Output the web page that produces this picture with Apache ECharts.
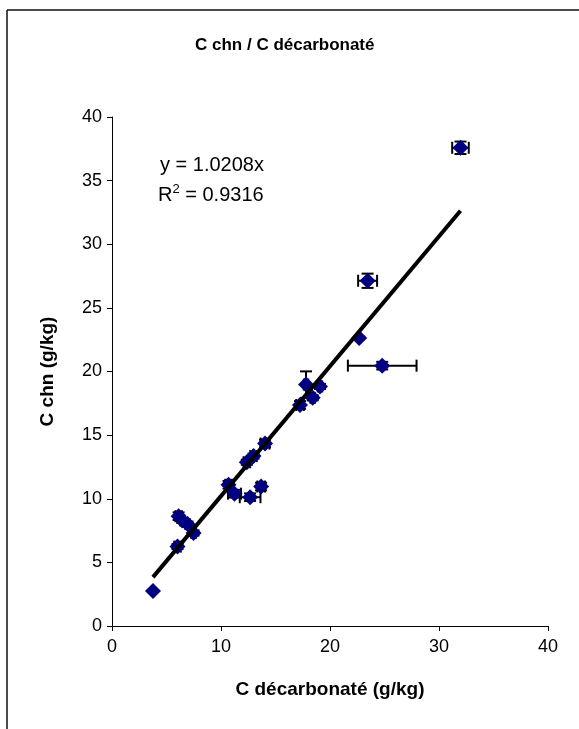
<!DOCTYPE html>
<html>
<head>
<meta charset="utf-8">
<script src="https://cdn.jsdelivr.net/npm/echarts@6/dist/echarts.min.js"></script>
<style>
html,body{margin:0;padding:0;background:#fff;}
#chart{width:579px;height:729px;}
</style>
</head>
<body>
<div id="chart"></div>
<script>
// C décarbonaté (g/kg)
var xValues = [3.76, 6.01, 6.11, 6.45, 6.93, 7.48, 10.69, 11.24, 12.67, 13.68, 12.37, 12.98, 14.04, 17.25, 17.80, 18.41, 19.08, 22.68, 24.79, 23.45, 31.97];
// C chn (g/kg)
var yValues = [2.75, 6.24, 8.63, 8.30, 8.01, 7.31, 11.10, 10.40, 10.12, 10.96, 12.87, 13.35, 14.34, 17.37, 18.97, 17.93, 18.83, 22.63, 20.46, 27.13, 37.58];
// error bar half-widths
var xErr = [0.0, 0.3, 0.3, 0.2, 0.2, 0.2, 0.3, 0.6, 0.95, 0.35, 0.3, 0.3, 0.4, 0.35, 0.2, 0.2, 0.2, 0.1, 3.15, 0.87, 0.76];
var yErr = [0.0, 0.2, 0.3, 0.2, 0.2, 0.2, 0.3, 0.3, 0.3, 0.3, 0.2, 0.2, 0.3, 0.3, 1.04, 0.2, 0.2, 0.1, 0.3, 0.56, 0.49];
var slope = 1.0208;
var r2 = '0.9316';
var title = 'C chn / C décarbonaté';
var xName = 'C décarbonaté (g/kg)';
var yName = 'C chn (g/kg)';

var points = xValues.map(function(x, i){ return [x, yValues[i]]; });
var errData = xValues.map(function(x, i){ return [x, yValues[i], xErr[i], yErr[i]]; });
var xMin = Math.min.apply(null, xValues), xMax = Math.max.apply(null, xValues);
var trend = [[xMin, slope * xMin], [xMax, slope * xMax]];

var chart = echarts.init(document.getElementById('chart'));
var font = '"Liberation Sans", Arial, sans-serif';
var CAP = 6;

chart.setOption({
  animation: false,
  backgroundColor: '#fff',
  title: {
    text: title, left: 190, top: 32,
    textStyle: {fontFamily: font, fontSize: 17, fontWeight: 'bold', color: '#000'}
  },
  grid: {left: 112, right: 31, top: 117, bottom: 103},
  xAxis: {
    type: 'value', min: 0, max: 40, interval: 10,
    name: xName, nameLocation: 'middle', nameGap: 54,
    nameTextStyle: {fontFamily: font, fontSize: 19, fontWeight: 'bold', color: '#000'},
    axisLine: {show: true, lineStyle: {color: '#000', width: 1}},
    axisTick: {show: true, length: 5, lineStyle: {color: '#000'}},
    axisLabel: {fontFamily: font, fontSize: 18, color: '#000', margin: 12},
    splitLine: {show: false}
  },
  yAxis: {
    type: 'value', min: 0, max: 40, interval: 5,
    name: yName, nameLocation: 'middle', nameGap: 55,
    nameTextStyle: {fontFamily: font, fontSize: 19, fontWeight: 'bold', color: '#000'},
    axisLine: {show: true, lineStyle: {color: '#000', width: 1}},
    axisTick: {show: true, length: 5, lineStyle: {color: '#000'}},
    axisLabel: {fontFamily: font, fontSize: 18, color: '#000', margin: 10},
    splitLine: {show: false}
  },
  graphic: [
    {type: 'line', shape: {x1: 7, y1: 10, x2: 579, y2: 10}, style: {stroke: '#111', lineWidth: 1.5}, z: 100},
    {type: 'line', shape: {x1: 7, y1: 10, x2: 7, y2: 729}, style: {stroke: '#111', lineWidth: 1.5}, z: 100},
    {type: 'text', left: 160, top: 155, z: 100, style: {
      text: 'y = ' + slope + 'x', font: '20px ' + font, fill: '#000'}},
    {type: 'text', left: 158, top: 183, z: 100, style: {
      rich: {n: {fontFamily: font, fontSize: 20, fill: '#000'}, s: {fontFamily: font, fontSize: 13, fill: '#000', verticalAlign: 'top', padding: [0,0,12,0]}},
      text: '{n|R}{s|2}{n| = ' + r2 + '}'}}
  ],
  series: [
    {
      type: 'custom',
      data: errData,
      z: 2,
      renderItem: function(params, api){
        var x = api.value(0), y = api.value(1), ex = api.value(2), ey = api.value(3);
        var children = [];
        var st = {stroke: '#000', lineWidth: 2};
        if (ex > 0) {
          var l = api.coord([x - ex, y]), r = api.coord([x + ex, y]);
          children.push({type: 'line', shape: {x1: l[0], y1: l[1], x2: r[0], y2: r[1]}, style: st});
          children.push({type: 'line', shape: {x1: l[0], y1: l[1] - CAP, x2: l[0], y2: l[1] + CAP}, style: st});
          children.push({type: 'line', shape: {x1: r[0], y1: r[1] - CAP, x2: r[0], y2: r[1] + CAP}, style: st});
        }
        if (ey > 0) {
          var b = api.coord([x, y - ey]), t = api.coord([x, y + ey]);
          children.push({type: 'line', shape: {x1: b[0], y1: b[1], x2: t[0], y2: t[1]}, style: st});
          children.push({type: 'line', shape: {x1: b[0] - CAP, y1: b[1], x2: b[0] + CAP, y2: b[1]}, style: st});
          children.push({type: 'line', shape: {x1: t[0] - CAP, y1: t[1], x2: t[0] + CAP, y2: t[1]}, style: st});
        }
        return {type: 'group', children: children};
      }
    },
    {
      type: 'scatter',
      data: points,
      symbol: 'diamond',
      symbolSize: 16,
      z: 3,
      itemStyle: {color: '#000080', opacity: 1}
    },
    {
      type: 'line',
      data: trend,
      symbol: 'none',
      z: 4,
      lineStyle: {color: '#000', width: 4}
    }
  ]
});
</script>
</body>
</html>
